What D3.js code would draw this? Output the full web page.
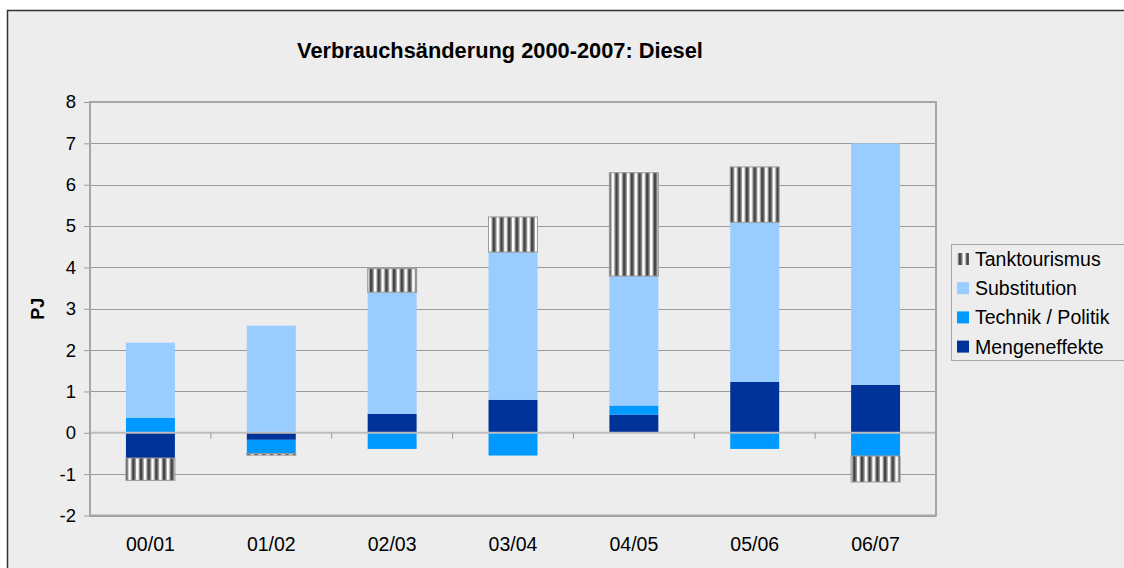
<!DOCTYPE html>
<html>
<head>
<meta charset="utf-8">
<script src="https://cdn.jsdelivr.net/npm/d3@7"></script>
<style>
  html, body { margin: 0; padding: 0; background: #ffffff; }
  svg { display: block; font-family: "Liberation Sans", Arial, sans-serif; }
</style>
</head>
<body>
<svg id="chart" width="1124" height="568"></svg>
<script>
// Diesel consumption change per year pair, in PJ
const categories = ["00/01", "01/02", "02/03", "03/04", "04/05", "05/06", "06/07"];
const mengeneffekte = [-0.61, -0.17, 0.46, 0.80, 0.44, 1.23, 1.16];
const technikPolitik = [0.36, -0.33, -0.39, -0.55, 0.22, -0.39, -0.56];
const substitution = [1.82, 2.59, 2.94, 3.57, 3.13, 3.86, 5.84];
const tanktourismus = [-0.54, -0.04, 0.57, 0.85, 2.50, 1.34, -0.63];
const yTicks = [-2, -1, 0, 1, 2, 3, 4, 5, 6, 7, 8];

// Stacking order, from the zero line outwards
const seriesKeys = ["Mengeneffekte", "Technik / Politik", "Substitution", "Tanktourismus"];
const seriesValues = [mengeneffekte, technikPolitik, substitution, tanktourismus];
const colors = {
  "Mengeneffekte": "#003399",
  "Technik / Politik": "#0099ff",
  "Substitution": "#99ccff",
  "Tanktourismus": "url(#stripes)"
};

const rows = categories.map((c, i) => {
  const r = { cat: c };
  seriesKeys.forEach((k, j) => { r[k] = seriesValues[j][i]; });
  return r;
});

const svg = d3.select("#chart");

// Chart background and frame
svg.append("rect").attr("x", 7.5).attr("y", 10.5).attr("width", 1130).attr("height", 570)
  .attr("fill", "#ededed").attr("stroke", "#333").attr("stroke-width", 1.5);

// Vertical stripe fill
const defs = svg.append("defs");
const pat = defs.append("pattern").attr("id", "stripes")
  .attr("patternUnits", "userSpaceOnUse").attr("width", 7.67).attr("height", 10);
pat.append("rect").attr("width", 7.67).attr("height", 10).attr("fill", "#ffffff");
pat.append("rect").attr("x", 0.6).attr("width", 1).attr("height", 10).attr("fill", "#8a8a8a");
pat.append("rect").attr("x", 1.6).attr("width", 3).attr("height", 10).attr("fill", "#444444");
pat.append("rect").attr("x", 4.6).attr("width", 1).attr("height", 10).attr("fill", "#8a8a8a");

const plot = { left: 90, right: 936, top: 102, bottom: 515.5 };

const x = d3.scaleBand().domain(categories)
  .range([plot.left, plot.right])
  .paddingInner(0.595).paddingOuter(0.2975);
const y = d3.scaleLinear().domain([-2, 8]).range([plot.bottom, plot.top]);

// Gridlines
svg.append("g").selectAll("line").data(yTicks.filter(v => v !== 0)).join("line")
  .attr("x1", plot.left).attr("x2", plot.right)
  .attr("y1", d => Math.round(y(d)) + 0.5).attr("y2", d => Math.round(y(d)) + 0.5)
  .attr("stroke", "#9a9a9a").attr("stroke-width", 1);

// Y axis with tick labels (plain hyphen for negatives)
const yAxis = d3.axisLeft(y).tickValues(yTicks).tickSize(6).tickPadding(8).tickFormat(d => String(d));
const gy = svg.append("g").attr("transform", `translate(${plot.left},0)`).call(yAxis);
gy.select(".domain").remove();
gy.selectAll(".tick line").attr("stroke", "#9a9a9a");
gy.selectAll(".tick text").attr("font-size", 18.5).attr("fill", "#000")
  .attr("font-family", "Liberation Sans, Arial, sans-serif");

// Stacked bars, positives up and negatives down from zero
const stack = d3.stack().keys(seriesKeys).offset(d3.stackOffsetDiverging);
const layers = stack(rows);

svg.append("g").selectAll("g").data(layers).join("g")
  .attr("fill", d => colors[d.key])
  .attr("stroke", d => d.key === "Tanktourismus" ? "#999" : "none")
  .attr("stroke-width", 1)
  .selectAll("rect").data(d => d).join("rect")
  .attr("x", d => x(d.data.cat))
  .attr("width", x.bandwidth())
  .attr("y", d => y(Math.max(d[0], d[1])))
  .attr("height", d => Math.abs(y(d[0]) - y(d[1])));

// Zero line with category separators
const zeroY = y(0);
svg.append("line").attr("x1", plot.left).attr("x2", plot.right)
  .attr("y1", zeroY).attr("y2", zeroY).attr("stroke", "#bdbdbd").attr("stroke-width", 2);
const gz = svg.append("g").attr("transform", `translate(0,${zeroY})`);
gz.selectAll("line").data(categories.slice(1)).join("line")
  .attr("x1", d => x(d) - x.step() * x.paddingInner() / 2)
  .attr("x2", d => x(d) - x.step() * x.paddingInner() / 2)
  .attr("y1", 0).attr("y2", 6).attr("stroke", "#9a9a9a");

// Plot area border
svg.append("rect").attr("x", plot.left).attr("y", plot.top)
  .attr("width", plot.right - plot.left).attr("height", plot.bottom - plot.top)
  .attr("fill", "none").attr("stroke", "#a6a6a6").attr("stroke-width", 2);

// Category labels
const gx = svg.append("g").attr("transform", `translate(0,${plot.bottom})`)
  .call(d3.axisBottom(x).tickSize(0).tickPadding(22));
gx.select(".domain").remove();
gx.selectAll(".tick text").attr("font-size", 19.5).attr("fill", "#000")
  .attr("font-family", "Liberation Sans, Arial, sans-serif");

// Title
svg.append("text").attr("x", 500).attr("y", 58).attr("text-anchor", "middle")
  .attr("font-size", 21.8).attr("font-weight", "bold").text("Verbrauchsänderung 2000-2007: Diesel");

// Y axis title
svg.append("text").attr("transform", `translate(44,${(plot.top + plot.bottom) / 2}) rotate(-90)`)
  .attr("text-anchor", "middle").attr("font-size", 18).attr("font-weight", "bold").text("PJ");

// Legend
const legend = svg.append("g");
legend.append("rect").attr("x", 951.5).attr("y", 244.5).attr("width", 200).attr("height", 116)
  .attr("fill", "#ededed").attr("stroke", "#a6a6a6").attr("stroke-width", 1);
const legendKeys = seriesKeys.slice().reverse();
const li = legend.selectAll("g.item").data(legendKeys).join("g").attr("class", "item")
  .attr("transform", (d, i) => `translate(957,${259 + i * 29.2})`);
li.append("rect").attr("x", 0).attr("y", -6).attr("width", 12).attr("height", 12)
  .attr("fill", d => colors[d]);
li.append("text").attr("x", 18).attr("y", 7).attr("font-size", 19.5).text(d => d);
</script>
</body>
</html>
